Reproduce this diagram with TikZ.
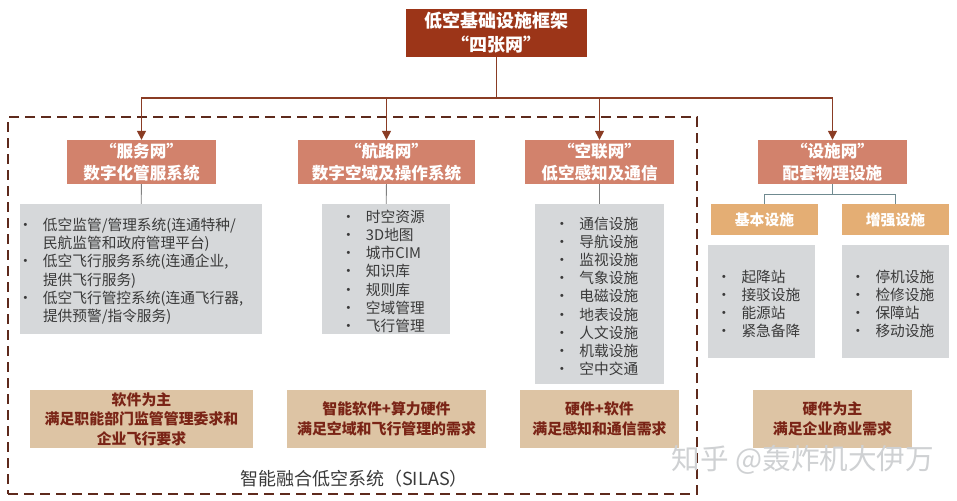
\documentclass[tikz,border=0pt]{standalone}
\usepackage{fontspec}
\setmainfont{Noto Sans CJK SC}
\usetikzlibrary{positioning, arrows.meta}
\definecolor{topred}{HTML}{9C3518}
\definecolor{salmon}{HTML}{D2826C}
\definecolor{peach}{HTML}{E4AE74}
\definecolor{panel}{HTML}{D6D8DA}
\definecolor{tan}{HTML}{DDC4A4}
\definecolor{darktext}{HTML}{3A3A3A}
\definecolor{tantext}{HTML}{7A2416}
\definecolor{dashcol}{HTML}{5E2A1C}
\definecolor{linkcol}{HTML}{8A3C24}
\definecolor{forkcol}{HTML}{6F8A90}
\definecolor{mark}{HTML}{CFD1D3}
\newcommand{\bul}{\makebox[19pt][l]{\kern-6pt\textbullet}}
\newcommand{\cont}{\hspace*{19pt}}
\begin{document}
\begin{tikzpicture}[x=1pt, y=-1pt,
    head/.style = {fill=topred, text=white, align=center, inner sep=0pt, font=\fontsize{18}{24}\selectfont\bfseries},
    net/.style = {fill=salmon, text=white, align=center, inner sep=0pt, minimum height=44pt, font=\fontsize{16.6}{22.5}\selectfont\bfseries},
    kind/.style = {fill=peach, text=white, inner sep=0pt, minimum width=107pt, minimum height=31pt, font=\fontsize{14.8}{18}\selectfont\bfseries},
    panelbox/.style = {fill=panel, text=darktext, align=left, inner sep=0pt, text width=78pt, font=\fontsize{14.7}{18.2}\selectfont, execute at begin node=\rule{0pt}{17pt}},
    note/.style = {fill=tan, text=tantext, align=center, inner sep=0pt, minimum height=58pt, font=\fontsize{14.9}{19.5}\selectfont\bfseries},
    link/.style = {draw=linkcol, line width=1.3pt},
    drop/.style = {link, -{Triangle[length=9pt, width=9pt]}},
    thin link/.style = {draw=gray, line width=0.8pt},
    fork link/.style = {draw=forkcol, line width=0.9pt}]
    \useasboundingbox (0,0) rectangle (957,500);

    \node[draw=dashcol, line width=2.4pt, dash pattern=on 10pt off 6pt, minimum width=689pt, minimum height=377pt, inner sep=0pt] (silas) at (352.5,305.5) {};
    \node[text=darktext, font=\fontsize{18}{20}\selectfont, inner sep=0pt] (silaslabel) at (354,479) {智能融合低空系统（SILAS）};

    \node[head, minimum width=181pt, minimum height=48pt] (top) at (496.5,33) {低空基础设施框架\\“四张网”};

    \node[net, minimum width=149pt] (fuwu) at (141.5,162) {“服务网”\\数字化管服系统};
    \node[net, minimum width=177pt] (hanglu) at (386.5,162) {“航路网”\\数字空域及操作系统};
    \node[net, minimum width=149pt] (konglian) at (599.5,162) {“空联网”\\低空感知及通信};
    \node[net, minimum width=149pt] (sheshi) at (832.5,162) {“设施网”\\配套物理设施};

    \coordinate (bus) at (496.5,98);
    \draw[link] (top) -- (bus);
    \draw[drop] (bus) -| (fuwu.north);
    \draw[drop] (bus) -| (hanglu.north);
    \draw[drop] (bus) -| (konglian.north);
    \draw[drop] (bus) -| (sheshi.north);

    \node[panelbox, text width=234pt, minimum width=242pt, minimum height=130pt] (fuwulist) at (141,269) {\bul 低空监管/管理系统(连通特种/\\\cont 民航监管和政府管理平台)\\\bul 低空飞行服务系统(连通企业,\\\cont 提供飞行服务)\\\bul 低空飞行管控系统(连通飞行器,\\\cont 提供预警/指令服务)};
    \node[panelbox, minimum width=128pt, minimum height=130pt] (hanglulist) at (386,269) {\bul 时空资源\\\bul 3D地图\\\bul 城市CIM\\\bul 知识库\\\bul 规则库\\\bul 空域管理\\\bul 飞行管理};
    \node[panelbox, minimum width=129pt, minimum height=180pt] (konglianlist) at (599.5,294) {\bul 通信设施\\\bul 导航设施\\\bul 监视设施\\\bul 气象设施\\\bul 电磁设施\\\bul 地表设施\\\bul 人文设施\\\bul 机载设施\\\bul 空中交通};

    \draw[thin link] (fuwu) -- (fuwulist);
    \draw[thin link] (hanglu) -- (hanglulist);
    \draw[thin link] (konglian) -- (konglianlist);

    \node[kind] (basic) at (764.5,219.5) {基本设施};
    \node[kind] (extra) at (895.5,219.5) {增强设施};
    \coordinate (fork) at (832.5,194);
    \draw[fork link] (sheshi) -- (fork);
    \draw[fork link] (fork) -| (basic.north);
    \draw[fork link] (fork) -| (extra.north);

    \node[panelbox, minimum width=107pt, minimum height=113pt] (basiclist) at (761.5,301.5) {\bul 起降站\\\bul 接驳设施\\\bul 能源站\\\bul 紧急备降};
    \node[panelbox, minimum width=107pt, minimum height=113pt] (extralist) at (895.5,301.5) {\bul 停机设施\\\bul 检修设施\\\bul 保障站\\\bul 移动设施};

    \node[note, minimum width=223pt] (fuwunote) at (141.5,419) {软件为主\\满足职能部门监管管理委求和\\企业飞行要求};
    \node[note, minimum width=199pt] (hanglunote) at (386.5,419) {智能软件+算力硬件\\满足空域和飞行管理的需求};
    \node[note, minimum width=159pt] (konglianote) at (599.5,419) {硬件+软件\\满足感知和通信需求};
    \node[note, minimum width=159pt] (sheshinote) at (832.5,419) {硬件为主\\满足企业商业需求};

    \node[text=mark, font=\fontsize{28.6}{32}\selectfont, inner sep=0pt] (stamp) at (803,460) {知乎 @轰炸机大伊万};
\end{tikzpicture}
\end{document}
